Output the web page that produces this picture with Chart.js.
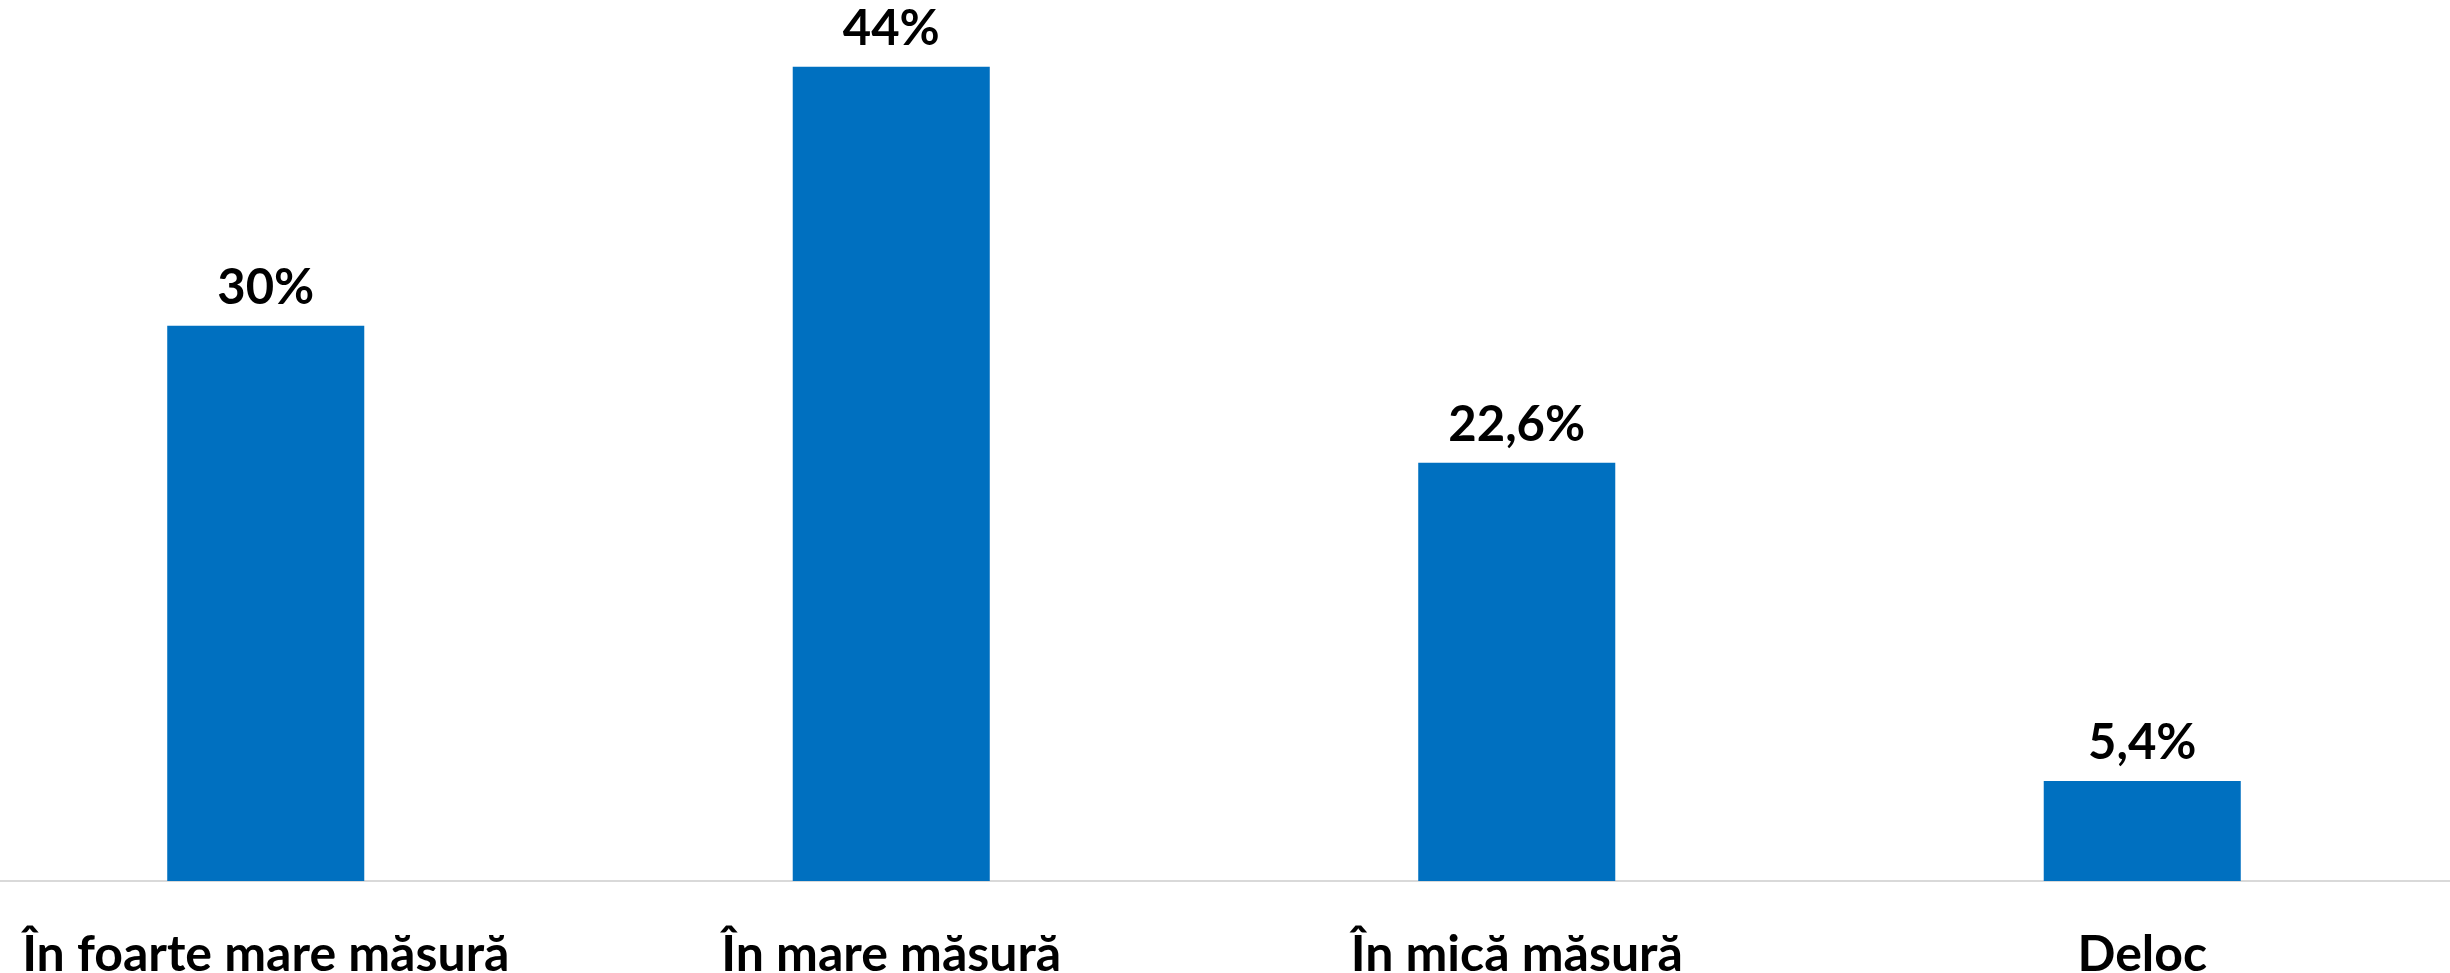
<!DOCTYPE html>
<html>
<head>
<meta charset="utf-8">
<script src="https://cdn.jsdelivr.net/npm/chart.js@4.4.1/dist/chart.umd.min.js"></script>
<style>
  html, body { margin: 0; padding: 0; background: #fff; overflow: hidden; }
  #wrap { position: absolute; left: -47px; top: 0; width: 2502px; height: 973px; }
</style>
</head>
<body>
<div id="wrap"><canvas id="surveyChart"></canvas></div>
<script>
// data
const categories = ["În foarte mare măsură", "În mare măsură", "În mică măsură", "Deloc"]
const percentages = [30, 44, 22.6, 5.4]
const yMax = 47.6

const labelFont = { family: "Lato", size: 50, weight: "bold" }

// value labels above each bar
const barLabels = {
  id: "barLabels",
  afterDatasetsDraw(chart) {
    const ctx = chart.ctx
    const meta = chart.getDatasetMeta(0)
    ctx.save()
    ctx.font = "bold 49px Lato"
    ctx.fillStyle = "#000"
    ctx.textAlign = "center"
    ctx.textBaseline = "alphabetic"
    meta.data.forEach((bar, i) => {
      const text = String(percentages[i]).replace(".", ",") + "%"
      ctx.fillText(text, bar.x, bar.y - 22)
    })
    ctx.restore()
  },
}

const surveyCtx = document.getElementById("surveyChart")
new Chart(surveyCtx, {
  type: "bar",
  data: {
    labels: categories,
    datasets: [
      {
        data: percentages,
        backgroundColor: "#0070C0",
        categoryPercentage: 1,
        barPercentage: 0.315,
      },
    ],
  },
  options: {
    responsive: true,
    maintainAspectRatio: false,
    animation: false,
    layout: { padding: 0 },
    plugins: {
      legend: { display: false },
      tooltip: { enabled: false },
    },
    scales: {
      y: {
        display: false,
        min: 0,
        max: yMax,
      },
      x: {
        grid: { display: false },
        border: { color: "#d9d9d9", width: 2 },
        ticks: {
          color: "#000",
          font: labelFont,
          padding: 36,
          maxRotation: 0,
          autoSkip: false,
        },
        afterFit: (scale) => {
          scale.height = 92
        },
      },
    },
  },
  plugins: [barLabels],
})
</script>
</body>
</html>
